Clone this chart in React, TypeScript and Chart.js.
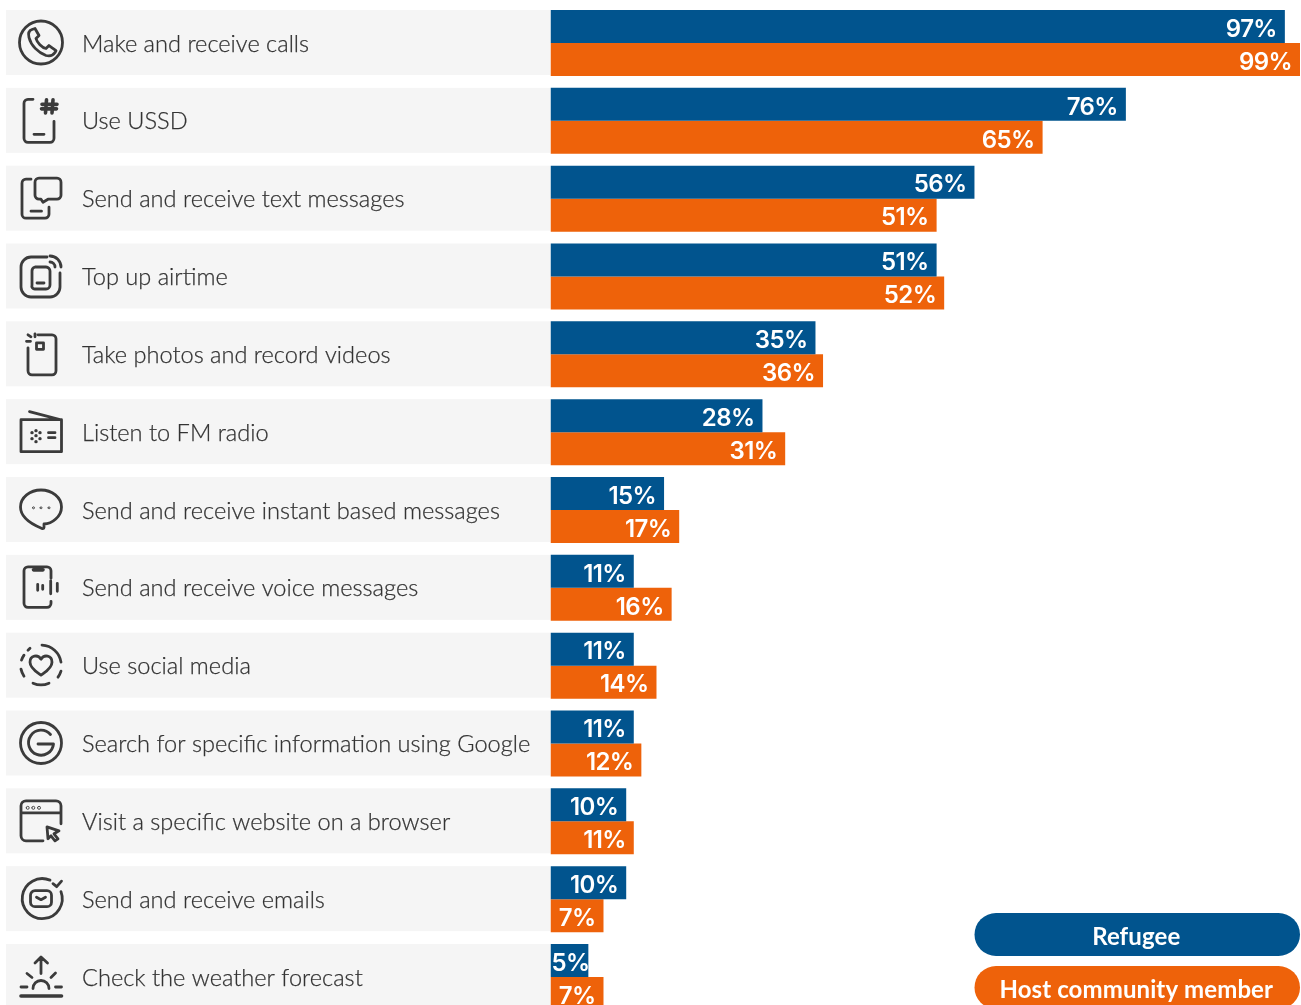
import React, { useEffect, useRef } from "react";
import { Chart, registerables } from "chart.js";

Chart.register(...registerables);

const activities = [
  "Make and receive calls",
  "Use USSD",
  "Send and receive text messages",
  "Top up airtime",
  "Take photos and record videos",
  "Listen to FM radio",
  "Send and receive instant based messages",
  "Send and receive voice messages",
  "Use social media",
  "Search for specific information using Google",
  "Visit a specific website on a browser",
  "Send and receive emails",
  "Check the weather forecast",
];
const refugee = [97, 76, 56, 51, 35, 28, 15, 11, 11, 11, 10, 10, 5];
const hostCommunity = [99, 65, 51, 52, 36, 31, 17, 16, 14, 12, 11, 7, 7];

const BLUE = "#01548e";
const ORANGE = "#ee620a";
const INK = "#333333";
const ROW_FILL = "#f5f5f5";
const LABEL_FAMILY = "Lato, sans-serif";
const VALUE_FAMILY = "Inter, sans-serif";

type Icon = { stroke?: string; thin?: string; heavy?: string; dots?: number[][] };

// Line glyphs for each row, in pixels around the middle of the row's icon slot.
const icons: Icon[] = [
  {
    stroke:
      "M-21.5,0 A21.5,21.5 0 1 1 21.5,0 A21.5,21.5 0 1 1 -21.5,0 M-9,-13 C-12,-12 -13,-9 -12,-5 C-10,3 -3,10 5,13 C9,14 12,13 14,10 L15,8 L8,3 L5,6 C1,5 -4,0 -5,-4 L-2,-7 L-6,-14 Z",
  },
  {
    stroke: "M-8,-21 H-13 A4,4 0 0 0 -17,-17 V18 A4,4 0 0 0 -13,22 H9 A4,4 0 0 0 13,18 V1 M-7,14 H3",
    heavy: "M5.5,-20.5 L4.5,-7.5 M12,-20.5 L11,-7.5 M1,-16 H16 M0.5,-11.5 H15.5",
  },
  {
    stroke:
      "M-10,-19 H-15 A4,4 0 0 0 -19,-15 V16 A4,4 0 0 0 -15,20 H4 A4,4 0 0 0 8,16 V9 M-10,13 H0.5 M-2,-20 H16 A4,4 0 0 1 20,-16 V-3 A4,4 0 0 1 16,1 H7 L2,4 L0,1 H-2 A4,4 0 0 1 -6,-3 V-16 A4,4 0 0 1 -2,-20 Z",
  },
  {
    stroke:
      "M6,-19 H-10 A10,10 0 0 0 -20,-9 V11 A10,10 0 0 0 -10,21 H9 A10,10 0 0 0 19,11 V-3 M-6,-9 H5 A4,4 0 0 1 9,-5 V9 A4,4 0 0 1 5,13 H-6 A3,3 0 0 1 -9,9 V-5 A4,4 0 0 1 -6,-9 Z M-4,7 H3 M9,-20 A11,11 0 0 1 20,-9 M9,-14 A5,5 0 0 1 14,-9",
  },
  {
    stroke:
      "M-3,-19 H11 A4,4 0 0 1 15,-15 V17 A4,4 0 0 1 11,21 H-9 A4,4 0 0 1 -13,17 V-6 M-4.5,-11 H2.5 V-4.5 H-4.5 Z M-6,-20 V-17 M-13,-19 L-10,-17 M-14.5,-12.5 H-10.5",
  },
  {
    stroke: "M-20,-12 H20.5 V20 H-20 Z M-11.5,-20 L19,-12 M7.5,1 H14 M7.5,6 H14",
    dots: [[-5, -1], [-1, 1], [-9, 1], [-5, 4], [-1, 7], [-9, 7], [-5, 10]],
  },
  {
    stroke:
      "M-20.5,-2.5 C-20.5,-12 -11,-19.5 0,-19.5 C11,-19.5 20.5,-12 20.5,-2.5 C20.5,7 11,14.5 3,14.5 L3,18 C3,19.5 1,19.5 0,18.5 C-6,16 -20.5,10 -20.5,-2.5 Z",
    thin: "M-8.5,-1.7 A1,1 0 1 1 -6.5,-1.7 A1,1 0 1 1 -8.5,-1.7 M-1,-1.7 A1,1 0 1 1 1,-1.7 A1,1 0 1 1 -1,-1.7 M7,-1.7 A1,1 0 1 1 9,-1.7 A1,1 0 1 1 7,-1.7",
  },
  {
    stroke:
      "M10,-9 V-16.5 A4,4 0 0 0 6,-20.5 H-13 A4,4 0 0 0 -17,-16.5 V16 A4,4 0 0 0 -13,20 H6 A4,4 0 0 0 10,16 V14 M-3.3,-3 V3 M1.7,-2 V2 M9.7,-6.5 V6.5 M16.3,-4 V4",
    heavy: "M-7.5,-17.5 H2",
  },
  {
    stroke:
      "M1,-20 A20,20 0 0 1 20,-3 M20,6 A20,20 0 0 1 17,12 M8,18 A20,20 0 0 1 -8,18 M-17,11 A20,20 0 0 1 -20,4 M-19.5,-5 A20,20 0 0 1 -17,-10 M-13,-15 L-11,-17 M0,-6 C-3,-11 -11,-10 -11,-3 C-11,3 -4,7 0,10 C4,7 11,3 11,-3 C11,-10 3,-11 0,-6 Z",
  },
  {
    stroke:
      "M-20.5,0 A20.5,20.5 0 1 1 20.5,0 A20.5,20.5 0 1 1 -20.5,0 M9.5,-8.5 A12.5,12.5 0 1 0 12.5,1 H-3",
  },
  {
    stroke:
      "M20,3 V-15 A5,5 0 0 0 15,-20 H-15 A5,5 0 0 0 -20,-15 V15 A5,5 0 0 0 -15,20 H2 M-20,-8 H20 M6,6 L18,10 L13,13 L17,18 L14,20 L10,15 L7,18 Z",
    thin: "M-14.8,-13 A1.5,1.5 0 1 1 -11.8,-13 A1.5,1.5 0 1 1 -14.8,-13 M-9.2,-13 A1.5,1.5 0 1 1 -6.2,-13 A1.5,1.5 0 1 1 -9.2,-13 M-3.5,-13 A1.5,1.5 0 1 1 -0.5,-13 A1.5,1.5 0 1 1 -3.5,-13",
  },
  {
    stroke:
      "M9,-18.5 A20,20 0 1 0 20,-7 M-6,-8 H6 A4.5,4.5 0 0 1 10.5,-3.5 V3.5 A4.5,4.5 0 0 1 6,8 H-6 A4.5,4.5 0 0 1 -10.5,3.5 V-3.5 A4.5,4.5 0 0 1 -6,-8 Z M-4.5,-1.5 L0,1 L4.5,-1.5 M12,-15 L15.7,-12 L20.5,-17.5",
  },
  {
    stroke:
      "M0,-3 V-19 M-6,-13.5 L0,-19.5 L6.5,-13.5 M-8,12 A8,8 0 0 1 8,12 M-20,10.5 H-14 M14.5,10.5 H20.5 M-14,-3 L-9,1 M14.5,-3.5 L10,1",
    heavy: "M-20,19.5 H20.5",
  },
];

const rowFill = {
  id: "rowFill",
  beforeDraw(chart: Chart) {
    const { ctx, scales } = chart;
    ctx.save();
    ctx.fillStyle = ROW_FILL;
    activities.forEach((_, i) => {
      const mid = scales.y.getPixelForValue(i) - 0.5;
      ctx.fillRect(6, mid - 32.5, chart.chartArea.left - 6, 65);
    });
    ctx.restore();
  },
};

const rowIcons = {
  id: "rowIcons",
  afterDraw(chart: Chart) {
    const { ctx, scales } = chart;
    icons.forEach((icon, i) => {
      ctx.save();
      ctx.translate(41, scales.y.getPixelForValue(i) - 0.5);
      ctx.strokeStyle = "#3b3b3b";
      ctx.fillStyle = "#3b3b3b";
      ctx.lineCap = "round";
      ctx.lineJoin = "round";
      if (icon.stroke) {
        ctx.lineWidth = 2.8;
        ctx.stroke(new Path2D(icon.stroke));
      }
      if (icon.heavy) {
        ctx.lineWidth = 3.6;
        ctx.stroke(new Path2D(icon.heavy));
      }
      if (icon.thin) {
        ctx.lineWidth = 0.9;
        ctx.stroke(new Path2D(icon.thin));
      }
      (icon.dots || []).forEach(([x, y]) => {
        ctx.beginPath();
        ctx.arc(x, y, 1.7, 0, Math.PI * 2);
        ctx.fill();
      });
      ctx.restore();
    });
  },
};

const valueLabels = {
  id: "valueLabels",
  afterDatasetsDraw(chart: Chart) {
    const { ctx } = chart;
    ctx.save();
    ctx.font = `600 24px ${VALUE_FAMILY}`;
    ctx.letterSpacing = "-0.6px";
    ctx.fillStyle = "#ffffff";
    ctx.textAlign = "right";
    ctx.textBaseline = "middle";
    chart.data.datasets.forEach((ds, d) => {
      chart.getDatasetMeta(d).data.forEach((bar, i) => {
        const text = `${ds.data[i]}%`;
        // Short bars keep their whole label inside the bar.
        const x = Math.max(bar.x - 8, chart.chartArea.left + ctx.measureText(text).width + 1);
        ctx.fillText(text, x, bar.y + 3);
      });
    });
    ctx.restore();
  },
};

const pillLegend = {
  id: "pillLegend",
  afterDraw(chart: Chart) {
    const { ctx } = chart;
    const left = 974.5;
    const width = 325.5;
    const height = 43;
    const tops = [913, 966];
    ctx.save();
    ctx.font = `700 24px ${LABEL_FAMILY}`;
    ctx.letterSpacing = "0.1px";
    ctx.textAlign = "center";
    ctx.textBaseline = "middle";
    chart.data.datasets.forEach((ds, d) => {
      ctx.fillStyle = ds.backgroundColor as string;
      ctx.beginPath();
      ctx.roundRect(left, tops[d], width, height, height / 2);
      ctx.fill();
      ctx.fillStyle = "#ffffff";
      ctx.fillText(ds.label as string, left + width / 2 - 1, tops[d] + height / 2 + 3);
    });
    ctx.restore();
  },
};

export default function App() {
  const canvasRef = useRef<HTMLCanvasElement>(null);

  useEffect(() => {
    const chart = new Chart(canvasRef.current!, {
      type: "bar",
      data: {
        labels: activities,
        datasets: [
          { label: "Refugee", data: refugee, backgroundColor: BLUE },
          { label: "Host community member", data: hostCommunity, backgroundColor: ORANGE },
        ],
      },
      options: {
        indexAxis: "y",
        animation: false,
        responsive: false,
        layout: { padding: { left: 82, right: 1, top: 4.1, bottom: 4.1 } },
        datasets: { bar: { categoryPercentage: 66 / 77.83, barPercentage: 1 } },
        plugins: { legend: { display: false }, tooltip: { enabled: false } },
        scales: {
          x: { display: false, min: 0, max: 99 },
          y: {
            grid: { display: false },
            border: { display: false },
            afterFit(scale) {
              scale.width = 468.5;
              scale.paddingTop = 0;
              scale.paddingBottom = 0;
            },
            ticks: {
              crossAlign: "far",
              padding: 0,
              labelOffset: 1,
              color: INK,
              font: { family: LABEL_FAMILY, size: 23.6, weight: "300", lineHeight: 1.1 },
              textStrokeWidth: 0.25,
              textStrokeColor: INK,
              autoSkip: false,
              z: 0,
            },
          },
        },
      },
      plugins: [rowFill, valueLabels, rowIcons, pillLegend],
    });
    return () => chart.destroy();
  }, []);

  return (
    <div style={{ position: "absolute", left: 0, top: 0, width: 1301, height: 1005, overflow: "hidden" }}>
      <canvas ref={canvasRef} width={1301} height={1020} style={{ display: "block" }} />
    </div>
  );
}
